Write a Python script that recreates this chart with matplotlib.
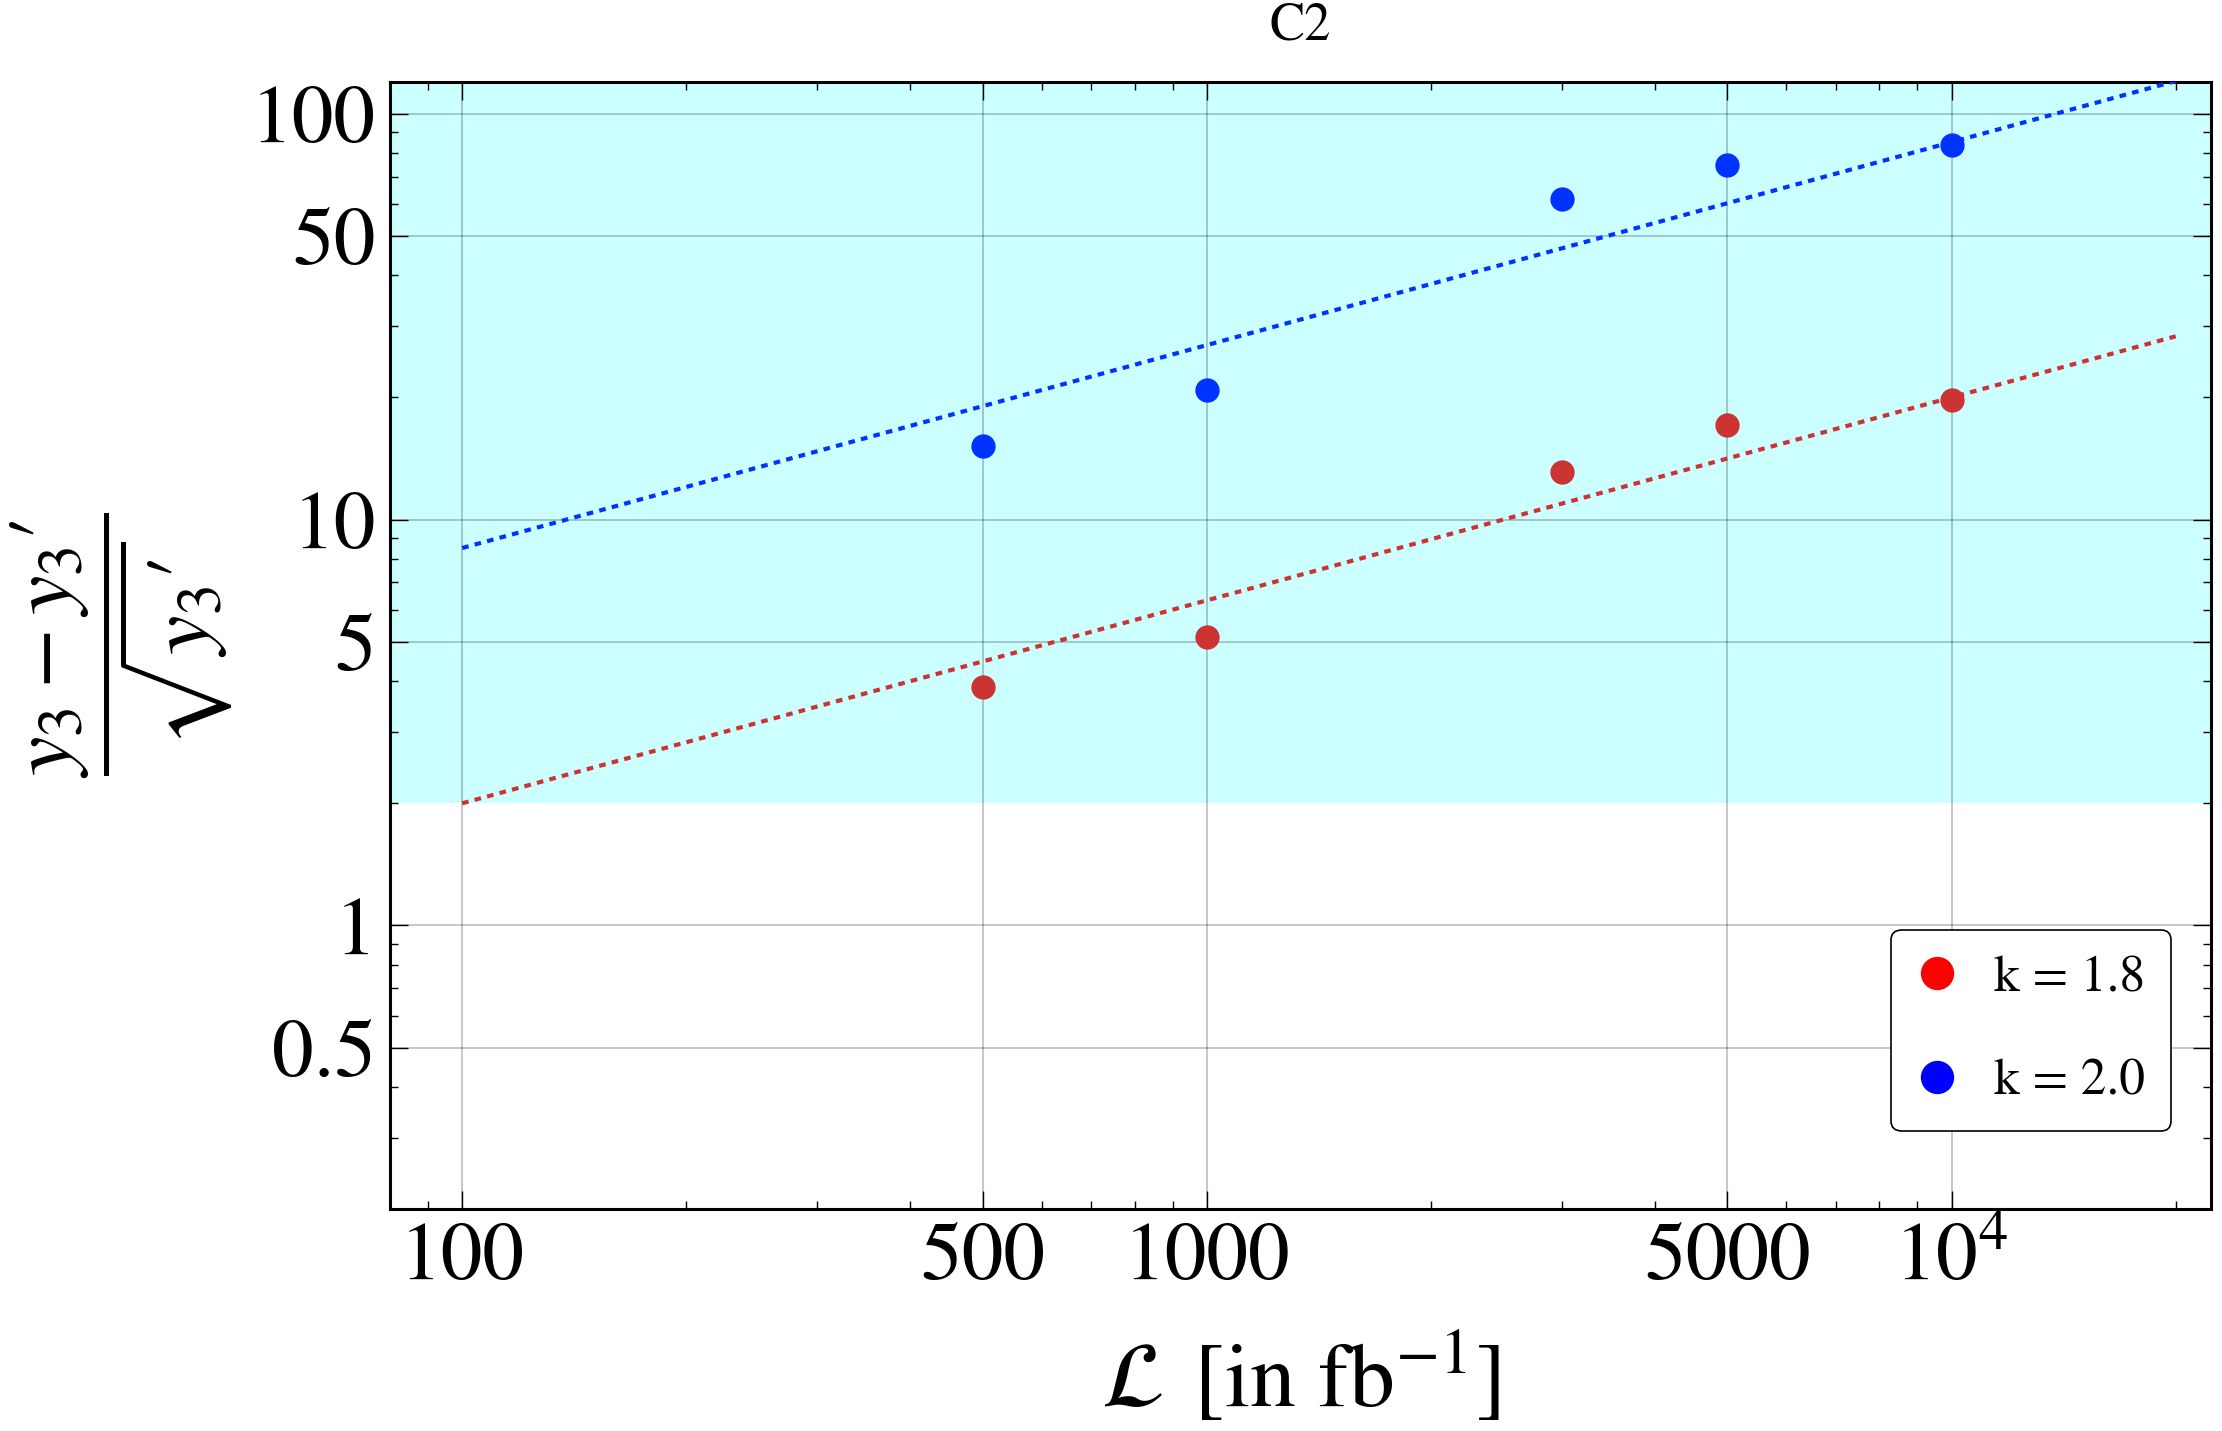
import numpy as np
import matplotlib
matplotlib.use('Agg')
import matplotlib.pyplot as plt
from matplotlib.ticker import FixedLocator, FixedFormatter, LogLocator, NullFormatter

plt.rcParams['font.family'] = ['STIXGeneral', 'DejaVu Serif']
plt.rcParams['mathtext.fontset'] = 'stix'

# luminosity points (fb^-1)
lumi = [500, 1000, 3000, 5000, 10000]
# significance for the two k values
sig_k18 = [3.87, 5.13, 13.1, 17.1, 19.7]
sig_k20 = [15.2, 20.8, 61.7, 74.8, 83.8]
labels = ['k = 1.8', 'k = 2.0']

xticks = [100, 500, 1000, 5000, 10000]
xticklabels = ['100', '500', '1000', '5000', r'$10^4$']
yticks = [0.5, 1, 5, 10, 50, 100]
yticklabels = ['0.5', '1', '5', '10', '50', '100']
shade_from = 2.0
fit_range = [100, 20000]

fig = plt.figure(figsize=(22.22, 14.31), dpi=100)
ax = fig.add_axes([0.1755, 0.155, 0.8195, 0.788])
ax.set_xscale('log')
ax.set_yscale('log')
ax.set_xlim(80, 22300)
ax.set_ylim(0.2, 120)

ax.axhspan(shade_from, 1000, color='#ccffff', zorder=0, lw=0)

# sqrt(L) scaling fit through each set of points
def fit_sqrt(x, y):
    x = np.array(x, float)
    y = np.array(y, float)
    a = np.mean(np.log10(y) - 0.5*np.log10(x))
    xs = np.geomspace(fit_range[0], fit_range[1], 50)
    return xs, 10**(a + 0.5*np.log10(xs))

xs, ys = fit_sqrt(lumi, sig_k18)
ax.plot(xs, ys, color='#cc3333', lw=3.0, dashes=(1.6, 1.5), zorder=3)
xs, ys = fit_sqrt(lumi, sig_k20)
ax.plot(xs, ys, color='#0033ff', lw=3.0, dashes=(1.6, 1.5), zorder=3)

ax.plot(lumi, sig_k18, 'o', color='#cc3333', ms=17.5, mec='none', zorder=4)
ax.plot(lumi, sig_k20, 'o', color='#0033ff', ms=17.5, mec='none', zorder=4)

# legend uses pure colours
h1, = ax.plot([], [], 'o', color='#ff0000', ms=24, mec='none')
h2, = ax.plot([], [], 'o', color='#0000ff', ms=24, mec='none')
leg = ax.legend([h1, h2], labels, loc='lower right', bbox_to_anchor=(0.978, 0.069),
                borderaxespad=0, fontsize=37, frameon=True, fancybox=True,
                edgecolor='black', framealpha=1, labelspacing=1.1,
                handletextpad=0.7, borderpad=0.5, handlelength=0.8)
leg.get_frame().set_linewidth(1.2)

ax.xaxis.set_major_locator(FixedLocator(xticks))
ax.xaxis.set_major_formatter(FixedFormatter(xticklabels))
ax.xaxis.set_minor_locator(LogLocator(base=10, subs=np.arange(2, 10)))
ax.xaxis.set_minor_formatter(NullFormatter())
ax.yaxis.set_major_locator(FixedLocator(yticks))
ax.yaxis.set_major_formatter(FixedFormatter(yticklabels))
ax.yaxis.set_minor_locator(LogLocator(base=10, subs=np.arange(2, 10)))
ax.yaxis.set_minor_formatter(NullFormatter())

ax.tick_params(which='both', direction='in', top=True, right=True, width=1)
ax.tick_params(which='major', length=13, labelsize=60, pad=10)
ax.tick_params(which='minor', length=6)

ax.grid(True, which='major', color='black', alpha=0.22, lw=1.4)
for s in ax.spines.values():
    s.set_linewidth(2.2)

ax.set_title('C2', fontsize=38, pad=30)
ax.set_xlabel(r'$\mathcal{L}\;\,[\mathrm{in\ fb}^{-1}]$', fontsize=66, labelpad=24)
ax.set_ylabel(r"$\dfrac{y_3 - y_3\prime}{\sqrt{y_3\prime}}$", fontsize=64, labelpad=12)

fig.savefig('out.png', dpi=100)
